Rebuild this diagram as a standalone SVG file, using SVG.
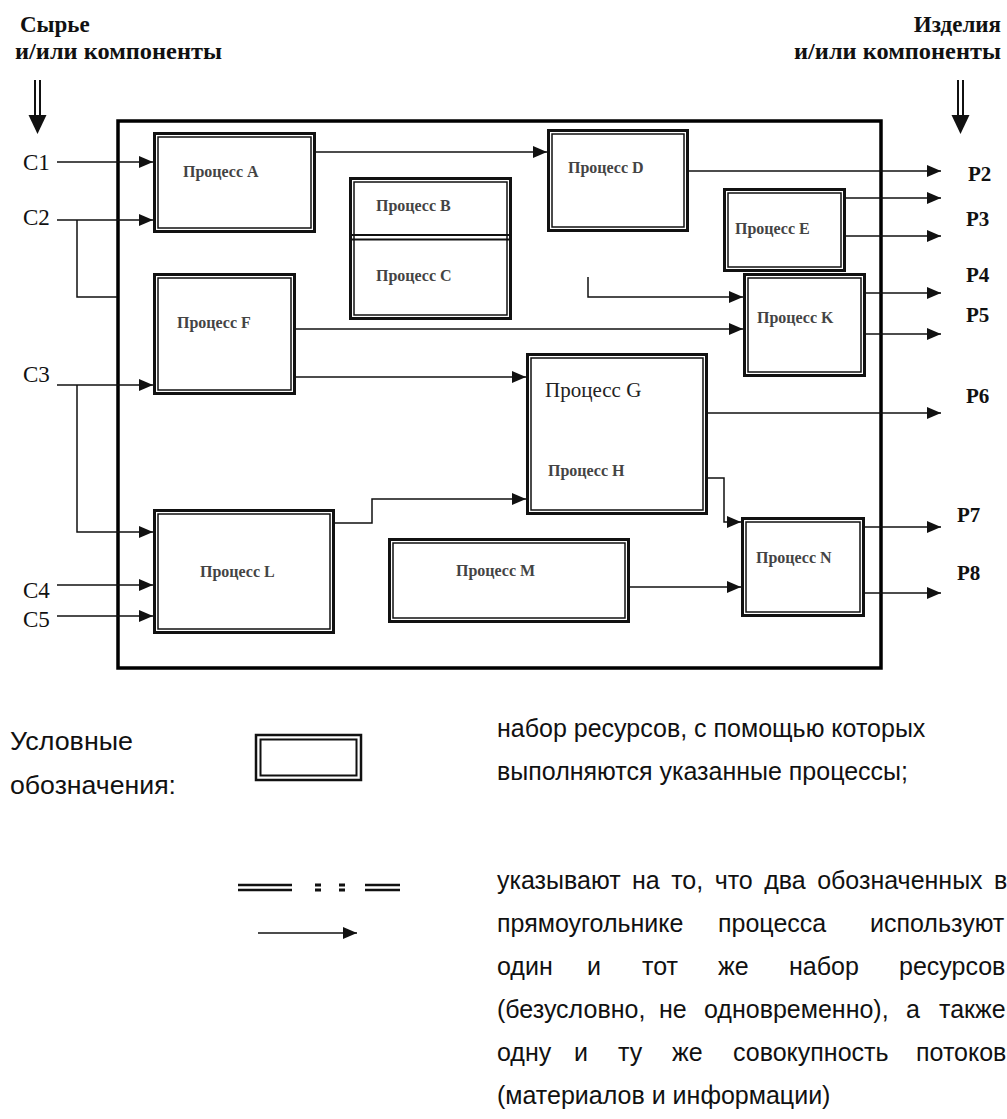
<svg xmlns="http://www.w3.org/2000/svg" width="1007" height="1119" viewBox="0 0 1007 1119">
<style>
.frame{fill:none;stroke:#000;stroke-width:3.5}
.bo{fill:#fff;stroke:#111;stroke-width:3}
.bi{fill:none;stroke:#111;stroke-width:1.5}
.ln{fill:none;stroke:#111;stroke-width:1.5}
.pl{font-family:"Liberation Serif",serif;font-size:16px;font-weight:bold;fill:#444}
.pg{font-family:"Liberation Serif",serif;font-size:21px;fill:#222}
.cl{font-family:"Liberation Serif",serif;font-size:23px;fill:#111}
.pb{font-family:"Liberation Serif",serif;font-size:21px;font-weight:bold;fill:#111}
.hd{font-family:"Liberation Serif",serif;font-size:23px;font-weight:bold;fill:#111}
.tx{font-family:"Liberation Sans",Arial,sans-serif;font-size:25px;fill:#111}
</style>
<defs>
<marker id="ah" markerUnits="userSpaceOnUse" markerWidth="15" markerHeight="13" refX="14" refY="6" orient="auto">
<path d="M0,0 L14,6 L0,12 z" fill="#111"/>
</marker>
</defs>
<rect width="1007" height="1119" fill="#fff"/>

<g id="heading-in">
<text class="hd" x="20" y="32">Сырье</text>
<text class="hd" x="15" y="59" textLength="207" lengthAdjust="spacingAndGlyphs">и/или компоненты</text>
<line x1="35" y1="80" x2="35" y2="117" stroke="#111" stroke-width="2"/>
<line x1="40" y1="80" x2="40" y2="117" stroke="#111" stroke-width="2"/>
<polygon points="28.5,115 46.5,115 37.5,134" fill="#111"/>
</g>
<g id="heading-out">
<text class="hd" x="1001" y="32" text-anchor="end">Изделия</text>
<text class="hd" x="1001" y="59" text-anchor="end" textLength="207" lengthAdjust="spacingAndGlyphs">и/или компоненты</text>
<line x1="958" y1="80" x2="958" y2="117" stroke="#111" stroke-width="2"/>
<line x1="963" y1="80" x2="963" y2="117" stroke="#111" stroke-width="2"/>
<polygon points="951.5,115 969.5,115 960.5,134" fill="#111"/>
</g>

<rect id="frame" class="frame" x="118" y="121" width="763" height="547"/>

<g id="connectors">
<path class="ln" d="M57 162 H153" marker-end="url(#ah)"/>
<path class="ln" d="M57 220 H153" marker-end="url(#ah)"/>
<path class="ln" d="M77 220 V297 H117"/>
<path class="ln" d="M57 385 H153" marker-end="url(#ah)"/>
<path class="ln" d="M77 385 V532 H153" marker-end="url(#ah)"/>
<path class="ln" d="M57 585 H153" marker-end="url(#ah)"/>
<path class="ln" d="M57 616 H153" marker-end="url(#ah)"/>
<path class="ln" d="M316 152 H547" marker-end="url(#ah)"/>
<path class="ln" d="M689 171 H941" marker-end="url(#ah)"/>
<path class="ln" d="M846 198 H941" marker-end="url(#ah)"/>
<path class="ln" d="M846 236 H941" marker-end="url(#ah)"/>
<path class="ln" d="M588 277 V297 H743" marker-end="url(#ah)"/>
<path class="ln" d="M296 329 H743" marker-end="url(#ah)"/>
<path class="ln" d="M866 293 H941" marker-end="url(#ah)"/>
<path class="ln" d="M866 334 H941" marker-end="url(#ah)"/>
<path class="ln" d="M296 377 H526" marker-end="url(#ah)"/>
<path class="ln" d="M708 413 H941" marker-end="url(#ah)"/>
<path class="ln" d="M335 523 H372 V499 H526" marker-end="url(#ah)"/>
<path class="ln" d="M708 478 H724 V522 H741" marker-end="url(#ah)"/>
<path class="ln" d="M630 587 H741" marker-end="url(#ah)"/>
<path class="ln" d="M865 527 H941" marker-end="url(#ah)"/>
<path class="ln" d="M865 593 H941" marker-end="url(#ah)"/>
</g>

<g id="inputs">
<text class="cl" x="23" y="170">C1</text>
<text class="cl" x="23" y="225">C2</text>
<text class="cl" x="23" y="382">C3</text>
<text class="cl" x="23" y="598">C4</text>
<text class="cl" x="23" y="627">C5</text>
</g>
<g id="outputs">
<text class="pb" x="968" y="181">P2</text>
<text class="pb" x="966" y="226">P3</text>
<text class="pb" x="966" y="282">P4</text>
<text class="pb" x="966" y="322">P5</text>
<text class="pb" x="966" y="403">P6</text>
<text class="pb" x="957" y="522">P7</text>
<text class="pb" x="957" y="580">P8</text>
</g>

<g id="proc-A">
<rect class="bo" x="154.5" y="133.5" width="160" height="98"/>
<rect class="bi" x="158" y="137" width="153" height="91"/>
<text class="pl" x="183" y="177">Процесс A</text>
</g>
<g id="proc-BC">
<rect class="bo" x="350.5" y="178.5" width="160" height="140"/>
<rect class="bi" x="354" y="182" width="153" height="133"/>
<line x1="352" y1="235" x2="509" y2="235" stroke="#111" stroke-width="2"/>
<line x1="352" y1="239.5" x2="509" y2="239.5" stroke="#111" stroke-width="2"/>
<text class="pl" x="376" y="211">Процесс B</text>
<text class="pl" x="376" y="281">Процесс C</text>
</g>
<g id="proc-D">
<rect class="bo" x="548.5" y="130.5" width="139" height="100"/>
<rect class="bi" x="552" y="134" width="132" height="93"/>
<text class="pl" x="568" y="173">Процесс D</text>
</g>
<g id="proc-E">
<rect class="bo" x="724.5" y="189.5" width="120" height="81"/>
<rect class="bi" x="728" y="193" width="113" height="74"/>
<text class="pl" x="735" y="234">Процесс E</text>
</g>
<g id="proc-K">
<rect class="bo" x="744.5" y="274.5" width="120" height="101"/>
<rect class="bi" x="748" y="278" width="113" height="94"/>
<text class="pl" x="757" y="323">Процесс K</text>
</g>
<g id="proc-F">
<rect class="bo" x="154.5" y="274.5" width="140" height="119"/>
<rect class="bi" x="158" y="278" width="133" height="112"/>
<text class="pl" x="177" y="328">Процесс F</text>
</g>
<g id="proc-GH">
<rect class="bo" x="527.5" y="354.5" width="179" height="159"/>
<rect class="bi" x="531" y="358" width="172" height="152"/>
<text class="pg" x="545" y="397">Процесс G</text>
<text class="pl" x="548" y="476">Процесс H</text>
</g>
<g id="proc-N">
<rect class="bo" x="742.5" y="518.5" width="121" height="97"/>
<rect class="bi" x="746" y="522" width="114" height="90"/>
<text class="pl" x="756" y="563">Процесс N</text>
</g>
<g id="proc-L">
<rect class="bo" x="154.5" y="510.5" width="179" height="122"/>
<rect class="bi" x="158" y="514" width="172" height="115"/>
<text class="pl" x="200" y="577">Процесс L</text>
</g>
<g id="proc-M">
<rect class="bo" x="389.5" y="539.5" width="239" height="82"/>
<rect class="bi" x="393" y="543" width="232" height="75"/>
<text class="pl" x="456" y="576">Процесс M</text>
</g>

<g id="legend">
<text class="tx" x="10" y="750" textLength="123" lengthAdjust="spacingAndGlyphs">Условные</text>
<text class="tx" x="10" y="794" textLength="166" lengthAdjust="spacingAndGlyphs">обозначения:</text>
<rect x="256" y="735" width="105" height="45" fill="none" stroke="#111" stroke-width="2.5"/>
<rect x="260.5" y="739.5" width="96" height="36" fill="none" stroke="#111" stroke-width="2"/>
<text class="tx" x="497" y="737">набор ресурсов, с помощью которых</text>
<text class="tx" x="497" y="780">выполняются указанные процессы;</text>
<g id="legend-dash">
<line x1="238" y1="885" x2="292" y2="885" stroke="#111" stroke-width="2.5"/>
<line x1="238" y1="890" x2="292" y2="890" stroke="#111" stroke-width="2.5"/>
<rect x="315" y="883.5" width="6" height="3" fill="#111"/>
<rect x="315" y="888.5" width="6" height="3" fill="#111"/>
<rect x="339" y="883.5" width="6" height="3" fill="#111"/>
<rect x="339" y="888.5" width="6" height="3" fill="#111"/>
<line x1="365" y1="885" x2="400" y2="885" stroke="#111" stroke-width="2.5"/>
<line x1="365" y1="890" x2="400" y2="890" stroke="#111" stroke-width="2.5"/>
</g>
<path class="ln" d="M258 933 H357" marker-end="url(#ah)"/>
<text class="tx" x="497" y="889" word-spacing="4.5">указывают на то, что два обозначенных в</text>
<text class="tx" y="932"><tspan x="497">прямоугольнике</tspan><tspan x="718">процесса</tspan><tspan x="870">используют</tspan></text>
<text class="tx" y="975"><tspan x="497">один</tspan><tspan x="587">и</tspan><tspan x="642">тот</tspan><tspan x="718">же</tspan><tspan x="789">набор</tspan><tspan x="899">ресурсов</tspan></text>
<text class="tx" y="1018"><tspan x="497">(безусловно,</tspan><tspan x="659">не</tspan><tspan x="704">одновременно),</tspan><tspan x="906">а</tspan><tspan x="939">также</tspan></text>
<text class="tx" y="1061"><tspan x="497">одну</tspan><tspan x="574">и</tspan><tspan x="618">ту</tspan><tspan x="672">же</tspan><tspan x="733">совокупность</tspan><tspan x="916">потоков</tspan></text>
<text class="tx" x="497" y="1104">(материалов и информации)</text>
</g>
</svg>
